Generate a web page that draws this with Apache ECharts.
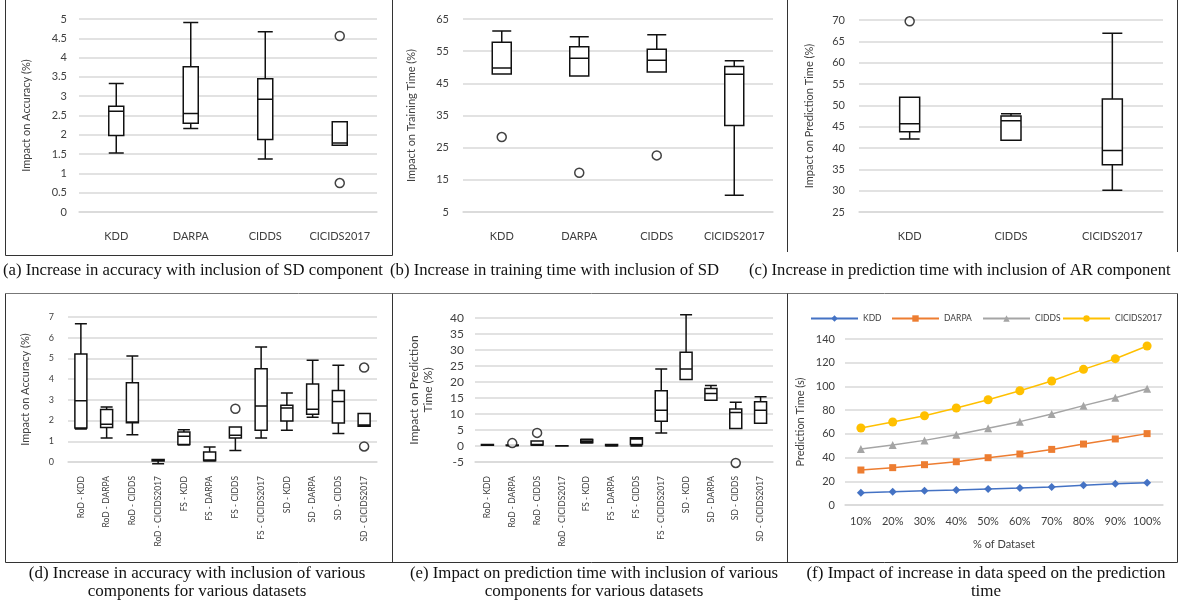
<!DOCTYPE html>
<html><head><meta charset="utf-8">
<script src="https://cdn.jsdelivr.net/npm/echarts@6/dist/echarts.min.js"></script>
<style>html,body{margin:0;padding:0;background:#fff}#c{width:1180px;height:607px}</style>
</head><body><div id="c"></div>
<script>
// ---------- DATA ----------
const catsA = ['KDD','DARPA','CIDDS','CICIDS2017'];
const boxA = [[1.53,1.98,2.61,2.74,3.33],[2.16,2.30,2.55,3.76,4.91],[1.37,1.88,2.92,3.45,4.67],[1.73,1.73,1.79,2.34,2.34]];
const outA = [[3,4.56],[3,0.75]];

const catsB = ['KDD','DARPA','CIDDS','CICIDS2017'];
const boxB = [[47.9,47.9,49.8,57.8,61.3],[47.3,47.3,52.8,56.4,59.5],[48.5,48.5,52.2,55.6,60.1],[10.2,31.9,47.8,50.2,52.0]];
const outB = [[0,28.3],[1,17.2],[2,22.6]];

const catsC = ['KDD','CIDDS','CICIDS2017'];
const boxC = [[42.1,43.8,45.7,51.9,51.9],[41.8,41.8,46.4,47.5,48.0],[30.1,36.1,39.4,51.5,66.9]];
const outC = [[0,69.7]];

const catsDE = ['RoD - KDD','RoD - DARPA','RoD - CIDDS','RoD - CICIDS2017','FS - KDD','FS - DARPA','FS - CIDDS','FS - CICIDS2017','SD - KDD','SD - DARPA','SD - CIDDS','SD - CICIDS2017'];
const boxD = [[1.59,1.64,2.96,5.21,6.68],[1.16,1.67,1.82,2.54,2.65],[1.32,1.90,1.93,3.83,5.12],[-0.08,0.05,0.08,0.12,0.12],[0.82,0.85,1.24,1.45,1.56],[0.05,0.06,0.10,0.48,0.72],[0.56,1.16,1.29,1.69,1.69],[1.16,1.53,2.70,4.50,5.55],[1.53,1.98,2.61,2.74,3.33],[2.16,2.30,2.55,3.76,4.91],[1.37,1.88,2.92,3.45,4.67],[1.73,1.73,1.79,2.34,2.34]];
const outD = [[6,2.57],[11,4.56],[11,0.75]];

const boxE = [[0.2,0.25,0.35,0.45,0.5],[0.1,0.15,0.2,0.3,0.35],[0.2,0.3,0.5,1.6,1.6],[0,0.02,0.05,0.08,0.1],[0.9,1.0,1.5,2.0,2.1],[0.0,0.05,0.2,0.45,0.5],[0.0,0.5,2.2,2.6,2.6],[4.1,7.7,11.2,17.3,24.1],[20.8,20.8,24.1,29.3,41.0],[14.3,14.3,16.4,18.0,18.9],[5.5,5.5,10.5,11.6,13.7],[7.1,7.1,11.2,13.8,15.4]];
const outE = [[1,0.9],[2,4.1],[10,-5.3]];

const catsF = ['10%','20%','30%','40%','50%','60%','70%','80%','90%','100%'];
const fKDD = [10.4,11.2,12.1,12.7,13.5,14.3,15.2,16.6,18.0,18.8];
const fDARPA = [29.5,31.5,34.0,36.5,39.9,43.0,46.9,51.4,55.7,60.2];
const fCIDDS = [47.2,50.6,54.5,59.3,64.7,70.3,76.7,83.8,90.5,98.1];
const fCICIDS = [64.9,70.0,75.3,81.8,88.8,96.4,104.6,114.4,123.4,134.1];
const fNames = ['KDD','DARPA','CIDDS','CICIDS2017'];

const captions = [
  {t:'(a) Increase in accuracy with inclusion of SD component', x:3, y:271, a:'left', s:16.7},
  {t:'(b) Increase in training time with inclusion of SD', x:390, y:271, a:'left', s:16.7},
  {t:'(c) Increase in prediction time with inclusion of AR component', x:749, y:271, a:'left', s:16.6},
  {t:'(d) Increase in accuracy with inclusion of various', x:197, y:574, a:'center', s:17},
  {t:'components for various datasets', x:197, y:592, a:'center', s:17},
  {t:'(e) Impact on prediction time with inclusion of various', x:594, y:574, a:'center', s:16.8},
  {t:'components for various datasets', x:594, y:592, a:'center', s:17},
  {t:'(f) Impact of increase in data speed on the prediction', x:986, y:574, a:'center', s:17},
  {t:'time', x:986, y:592, a:'center', s:17}
];

// ---------- BUILD ----------
const FONT = 'Lato';
const TXT = '#404040';
const GRIDC = '#d9d9d9';
const grids = [], xAxes = [], yAxes = [], series = [];

function panel(g, cats, opt) {
  const i = grids.length;
  grids.push(Object.assign({containLabel:false}, g));
  xAxes.push({type:'category', gridIndex:i, data:cats, boundaryGap:true,
    axisLine:{show:true, onZero:false, lineStyle:{color:GRIDC, width:1.5}},
    axisTick:{show:false}, splitLine:{show:false},
    axisLabel:{color:TXT, fontFamily:FONT, fontSize:opt.xfs, margin:opt.xm, rotate:opt.rot||0, interval:0},
    name:opt.xname||'', nameLocation:'middle', nameGap:opt.xng||0,
    nameTextStyle:{color:TXT, fontFamily:FONT, fontSize:11}});
  yAxes.push({type:'value', gridIndex:i, min:opt.min, max:opt.max, interval:opt.int,
    axisLine:{show:false}, axisTick:{show:false},
    splitLine:{show:true, lineStyle:{color:GRIDC, width:1.5}},
    axisLabel:{color:TXT, fontFamily:FONT, fontSize:opt.yfs, margin:opt.ym},
    name:opt.yname, nameLocation:'middle', nameGap:opt.yng,
    nameTextStyle:{color:TXT, fontFamily:FONT, fontSize:opt.ynfs||11, lineHeight:14}});
  return i;
}
function boxes(i, box, out, w) {
  series.push({type:'boxplot', xAxisIndex:i, yAxisIndex:i, data:box, boxWidth:[w,w],
    itemStyle:{color:'#fff', borderColor:'#111', borderWidth:1.5}, silent:true});
  series.push({type:'scatter', xAxisIndex:i, yAxisIndex:i, data:out, symbol:'circle', symbolSize:9, clip:false,
    itemStyle:{color:'#fff', borderColor:'#111', borderWidth:1.5}, silent:true, z:5});
}

let i;
i = panel({left:79, top:19, width:298, height:193}, catsA, {min:0,max:5,int:0.5,xfs:11,xm:19,yfs:11,ym:12,yname:'Impact on Accuracy (%)',yng:46});
boxes(i, boxA, outA, 15);
i = panel({left:463, top:19, width:310, height:193}, catsB, {min:5,max:65,int:10,xfs:11,xm:19,yfs:11,ym:14,yname:'Impact on Training Time (%)',yng:45});
boxes(i, boxB, outB, 19);
i = panel({left:859, top:20, width:304, height:192}, catsC, {min:25,max:70,int:5,xfs:11,xm:19,yfs:11,ym:14,yname:'Impact on Prediction Time (%)',yng:43});
boxes(i, boxC, outC, 20);
i = panel({left:68, top:317, width:309, height:145}, catsDE, {min:0,max:7,int:1,xfs:8.5,xm:14,rot:90,yfs:9,ym:14,yname:'Impact on Accuracy (%)',yng:36});
boxes(i, boxD, outD, 12);
i = panel({left:475, top:318, width:298, height:144}, catsDE, {min:-5,max:40,int:5,xfs:8.5,xm:14,rot:90,yfs:12,ym:11,yname:'Impact on Prediction\nTime (%)',yng:40,ynfs:12});
boxes(i, boxE, outE, 12);
i = panel({left:845, top:339, width:318, height:166}, catsF, {min:0,max:140,int:20,xfs:11,xm:11,yfs:11,ym:10,yname:'Prediction Time (s)',yng:38,xname:'% of Dataset',xng:34});
const fData = [fKDD, fDARPA, fCIDDS, fCICIDS];
const fStyle = [
  {c:'#4472C4', s:'diamond', z:8},
  {c:'#ED7D31', s:'rect', z:7},
  {c:'#A5A5A5', s:'triangle', z:8},
  {c:'#FFC000', s:'circle', z:9}
];
fNames.forEach((n, k) => series.push({type:'line', name:n, xAxisIndex:i, yAxisIndex:i, data:fData[k],
  symbol:fStyle[k].s, symbolSize:fStyle[k].z, showAllSymbol:true, lineStyle:{color:fStyle[k].c, width:1.5},
  itemStyle:{color:fStyle[k].c}, silent:true}));
const legLeft = [810, 891, 982, 1062];
const legends = fNames.map((n, k) => ({left:legLeft[k], top:314, padding:0, itemWidth:47, itemHeight:8, data:[n],
  textStyle:{color:TXT, fontFamily:FONT, fontSize:8.5}, selectedMode:false}));

const graphics = [];
const FR = '#333';
function ln(x1,y1,x2,y2,c){graphics.push({type:'line', shape:{x1,y1,x2,y2}, style:{stroke:c||FR, lineWidth:1}, silent:true});}
ln(5.5,0,5.5,255.5); ln(5.5,255.5,392.5,255.5); ln(392.5,0,392.5,255.5);
ln(787.5,0,787.5,252); ln(1177.5,0,1177.5,252);
ln(5.5,293.5,1177.5,293.5,'#777'); ln(5.5,562.5,1177.5,562.5);
ln(5.5,293.5,5.5,562.5); ln(392.5,293.5,392.5,562.5); ln(787.5,293.5,787.5,562.5); ln(1177.5,293.5,1177.5,562.5);
captions.forEach(c => graphics.push({type:'text', x:c.x, y:c.y, silent:true,
  style:{text:c.t, fill:'#111', font:c.s + 'px "Liberation Serif"', textAlign:c.a, textVerticalAlign:'middle'}}));

const chart = echarts.init(document.getElementById('c'), null, {renderer:'canvas'});
chart.setOption({
  animation:false,
  backgroundColor:'#fff',
  grid:grids, xAxis:xAxes, yAxis:yAxes, series:series,
  legend:legends,
  graphic:graphics
});
</script></body></html>
